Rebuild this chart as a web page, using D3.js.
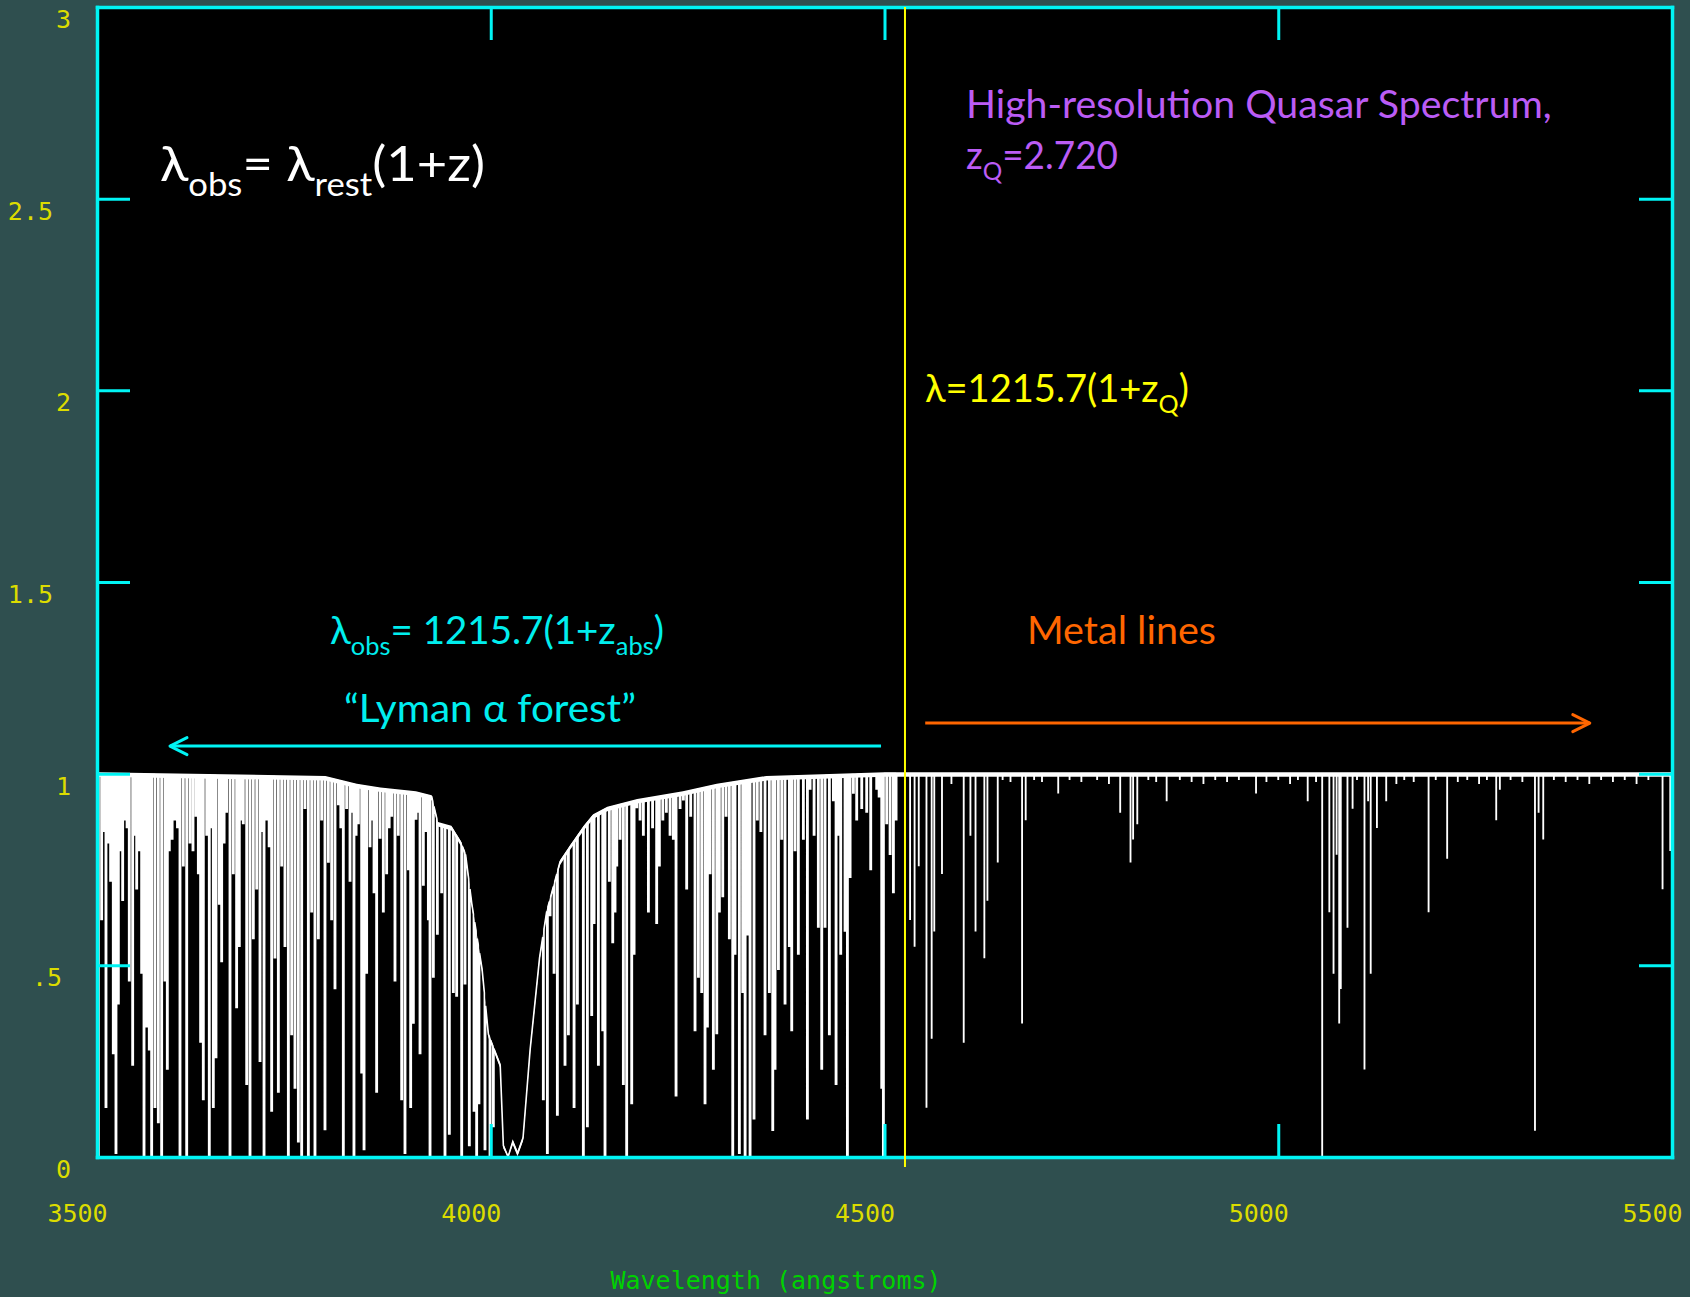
<!DOCTYPE html>
<html>
<head>
<meta charset="utf-8">
<script src="https://cdn.jsdelivr.net/npm/d3@7"></script>
<style>
  html, body { margin: 0; padding: 0; background: #2f4f4f; }
  svg { display: block; }
</style>
</head>
<body>
<div id="chart"></div>
<script>
// ---- data ----
// axes
const xTicks = [3500, 4000, 4500, 5000, 5500];
const yTicks = [0, 0.5, 1, 1.5, 2, 2.5, 3];
const yTickLabels = ["0", ".5", "1", "1.5", "2", "2.5", "3"];

// upper envelope of the spectrum (continuum with the damped Lyα trough near 4030 Å)
const envWave = [3500, 3790, 3830, 3860, 3905, 3925, 3933, 3950, 3962, 3968, 3976, 3989, 3997, 4012, 4016, 4022, 4028, 4034, 4041, 4050, 4058, 4062, 4071, 4088, 4101, 4118, 4130, 4148, 4186, 4244, 4287, 4350, 4500, 5500];
const envFlux = [1.0, 0.99, 0.97, 0.96, 0.95, 0.94, 0.87, 0.86, 0.82, 0.79, 0.66, 0.49, 0.32, 0.24, 0.03, 0.0, 0.04, 0.01, 0.05, 0.28, 0.44, 0.52, 0.64, 0.77, 0.81, 0.86, 0.89, 0.91, 0.93, 0.95, 0.97, 0.99, 1.0, 1.0];
const contNoise = 0.008;   // half-thickness of the noisy continuum trace

// Lyman alpha forest absorbers: wavelength (Å) and minimum flux
const lyaWave = [3501.7, 3505.9, 3511.4, 3517.3, 3520.7, 3524.1, 3527.1, 3532.6, 3535.5, 3541.0, 3545.3, 3550.4, 3556.7, 3559.7, 3563.1, 3566.4, 3569.4, 3573.6, 3577.9, 3582.1, 3586.3, 3589.3, 3591.8, 3599.0, 3605.4, 3609.6, 3613.9, 3618.1, 3625.7, 3628.7, 3631.6, 3635.0, 3639.3, 3642.6, 3647.7, 3651.1, 3655.3, 3658.3, 3664.6, 3668.9, 3673.1, 3677.3, 3680.7, 3685.8, 3690.1, 3694.3, 3698.5, 3702.8, 3707.0, 3712.1, 3715.5, 3721.8, 3726.0, 3730.3, 3734.5, 3738.7, 3743.0, 3747.2, 3751.4, 3755.7, 3759.9, 3764.1, 3768.4, 3772.6, 3776.8, 3781.1, 3789.5, 3793.8, 3798.0, 3802.2, 3806.5, 3812.8, 3817.0, 3821.3, 3826.3, 3831.9, 3836.1, 3839.1, 3842.4, 3846.7, 3851.8, 3855.1, 3859.4, 3863.6, 3867.8, 3874.2, 3878.4, 3882.6, 3886.9, 3891.1, 3895.4, 3898.3, 3901.7, 3905.1, 3910.2, 3914.4, 3920.8, 3922.9, 3927.1, 3932.2, 3937.7, 3941.9, 3947.4, 3952.5, 3956.7, 3963.1, 3967.3, 3972.8, 3978.8, 3982.1, 3985.0, 3992.7, 3999.1, 4003.3,
  4066.8, 4071.9, 4075.3, 4080.4, 4084.6, 4094.3, 4098.6, 4105.8, 4110.0, 4117.6, 4122.7, 4128.2, 4131.2, 4136.7, 4142.2, 4145.1, 4150.6, 4154.9, 4157.8, 4160.0, 4164.2, 4168.4, 4172.6, 4179.0, 4182.0, 4185.4, 4193.8, 4200.2, 4210.7, 4214.1, 4227.7, 4231.9, 4235.3, 4240.4, 4248.8, 4253.9, 4259.4, 4263.7, 4267.9, 4272.1, 4275.1, 4278.5, 4282.7, 4287.0, 4290.3, 4294.6, 4298.8, 4303.0, 4307.3, 4310.2, 4315.7, 4320.0, 4323.0, 4326.3, 4329.3, 4334.3, 4348.3, 4353.8, 4358.1, 4361.0, 4365.3, 4369.5, 4373.7, 4379.2, 4382.2, 4386.4, 4390.6, 4397.0, 4402.1, 4405.5, 4410.6, 4416.0, 4420.3, 4424.5, 4430.0, 4435.1, 4438.5, 4441.4, 4444.4, 4449.9, 4452.9, 4456.3, 4460.5, 4464.7, 4471.1, 4477.4, 4482.5, 4490.1, 4496.5, 4498.6, 4502.8, 4507.1, 4511.3, 4514.7];
const lyaFlux = [0.0, 0.62, 0.13, 0.72, 0.27, 0.01, 0.40, 0.67, 0.88, 0.46, 0.24, 0.70, 0.48, 0.0, 0.34, 0.28, 0.0, 0.13, 0.09, 0.0, 0.46, 0.23, 0.80, 0.88, 0.0, 0.76, 0.0, 0.82, 0.89, 0.74, 0.30, 0.15, 0.84, 0.0, 0.13, 0.26, 0.66, 0.51, 0.90, 0.0, 0.74, 0.39, 0.55, 0.87, 0.19, 0.0, 0.57, 0.70, 0.25, 0.0, 0.88, 0.12, 0.52, 0.17, 0.76, 0.55, 0.0, 0.32, 0.18, 0.04, 0.0, 0.91, 0.0, 0.64, 0.0, 0.57, 0.07, 0.77, 0.62, 0.44, 0.92, 0.0, 0.91, 0.72, 0.0, 0.87, 0.22, 0.02, 0.48, 0.81, 0.69, 0.17, 0.83, 0.64, 0.74, 0.89, 0.46, 0.84, 0.15, 0.01, 0.75, 0.13, 0.35, 0.88, 0.27, 0.71, 0.62, 0.0, 0.47, 0.58, 0.69, 0.0, 0.06, 0.43, 0.42, 0.0, 0.45, 0.03, 0.12, 0.0, 0.14, 0.02, 0.0, 0.08,
  0.15, 0.01, 0.63, 0.48, 0.11, 0.24, 0.32, 0.13, 0.40, 0.0, 0.08, 0.37, 0.61, 0.24, 0.33, 0.0, 0.72, 0.56, 0.64, 0.76, 0.83, 0.19, 0.0, 0.14, 0.53, 0.91, 0.84, 0.64, 0.61, 0.76, 0.84, 0.83, 0.16, 0.91, 0.70, 0.89, 0.33, 0.47, 0.43, 0.14, 0.34, 0.74, 0.23, 0.32, 0.64, 0.68, 0.89, 0.57, 0.0, 0.53, 0.01, 0.43, 0.0, 0.58, 0.0, 0.10, 0.32, 0.43, 0.07, 0.23, 0.49, 0.83, 0.40, 0.55, 0.33, 0.80, 0.53, 0.83, 0.10, 0.96, 0.84, 0.60, 0.23, 0.60, 0.32, 0.93, 0.19, 0.84, 0.53, 0.59, 0.0, 0.73, 0.95, 0.88, 0.91, 0.90, 0.75, 0.96, 0.18, 0.0, 0.87, 0.79, 0.69, 0.88];

// weaker forest lines filling the gaps just below the continuum
const weakWave = [3508.6, 3514.4, 3530.0, 3538.2, 3547.9, 3553.5, 3595.4, 3602.2, 3621.9, 3645.1, 3661.4, 3683.2, 3709.5, 3718.6, 3785.3, 3809.6, 3823.8, 3829.0, 3849.2, 3871.0, 3907.6, 3917.6, 4189.6, 4205.5, 4218.5, 4223.0, 4244.6, 4338.5, 4343.0, 4493.2];
const weakFlux = [0.85, 0.82, 0.80, 0.86, 0.84, 0.80, 0.83, 0.86, 0.80, 0.86, 0.82, 0.88, 0.85, 0.81, 0.88, 0.86, 0.90, 0.84, 0.88, 0.86, 0.90, 0.85, 0.88, 0.86, 0.88, 0.90, 0.93, 0.88, 0.85, 0.94];

// metal lines redward of Lyα emission, plus the small continuum wiggles
const metalWave = [4532.5, 4538.2, 4543.5, 4553.3, 4559.9, 4563.2, 4573.0, 4585, 4600.6, 4609.1, 4615.6, 4626.8, 4630.7, 4643.8, 4650, 4660, 4674.7, 4679.3, 4690, 4700, 4720.6, 4735, 4750, 4770, 4785, 4799.3, 4812.4, 4815.7, 4821.0, 4835, 4845, 4858.3, 4875, 4890, 4905, 4920, 4935, 4950, 4971.8, 4985, 5000, 5015, 5025, 5037.4, 5048, 5055.8, 5064.9, 5070.2, 5074.1, 5077.4, 5079.4, 5087.9, 5094.4, 5100, 5109.5, 5114.1, 5117.4, 5125.3, 5137.1, 5150, 5160, 5172, 5190.9, 5200, 5214.5, 5228, 5240, 5255, 5265, 5276.8, 5281.4, 5295, 5310, 5326.0, 5330.6, 5336.5, 5350, 5365, 5380, 5395, 5410, 5425, 5440, 5455, 5470, 5488.0, 5497.8];
const metalFlux = [0.62, 0.55, 0.76, 0.13, 0.31, 0.59, 0.74, 0.975, 0.30, 0.84, 0.59, 0.52, 0.67, 0.77, 0.985, 0.98, 0.35, 0.88, 0.985, 0.98, 0.95, 0.985, 0.98, 0.985, 0.975, 0.90, 0.77, 0.83, 0.87, 0.985, 0.98, 0.93, 0.985, 0.98, 0.975, 0.985, 0.98, 0.985, 0.95, 0.98, 0.985, 0.975, 0.985, 0.93, 0.98, 0.0, 0.64, 0.48, 0.79, 0.35, 0.44, 0.60, 0.91, 0.985, 0.23, 0.93, 0.48, 0.86, 0.93, 0.975, 0.985, 0.98, 0.64, 0.985, 0.78, 0.98, 0.985, 0.975, 0.985, 0.88, 0.96, 0.985, 0.98, 0.07, 0.90, 0.83, 0.985, 0.98, 0.985, 0.975, 0.985, 0.98, 0.985, 0.975, 0.985, 0.70, 0.80];

// annotations (data units)
const zQLine = 4526;   // λ = 1215.7(1+zQ) as drawn
const lyaArrow = { from: 4495.6, to: 3592.7, flux: 1.072 };
const metalArrow = { from: 4551.7, to: 5395.6, flux: 1.132 };

// ---- layout ----
const width = 1690, height = 1297;
const frame = { left: 97, right: 1672, top: 7, bottom: 1157 };
const tickLen = 33;
const cyan = "#00f4f4";
const monoFont = "'DejaVu Sans Mono', 'Liberation Mono', monospace";
const textFont = "Lato, 'Open Sans', sans-serif";

const svg = d3.select("#chart").append("svg")
  .attr("width", width)
  .attr("height", height);

svg.append("rect")
  .attr("width", width)
  .attr("height", height)
  .attr("fill", "#2f4f4f");

const x = d3.scaleLinear().domain([3500, 5500]).range([frame.left, frame.right]);
const y = d3.scaleLinear().domain([0, 3]).range([frame.bottom, frame.top]);

svg.append("rect")
  .attr("x", frame.left)
  .attr("y", frame.top)
  .attr("width", frame.right - frame.left)
  .attr("height", frame.bottom - frame.top)
  .attr("fill", "#000");

// ---- spectrum ----
const envelope = d3.scaleLinear().domain(envWave).range(envFlux).clamp(true);

// thin noisy continuum trace
svg.append("path")
  .datum(envWave)
  .attr("d", d3.area()
    .x(w => x(w))
    .y0(w => y(Math.max(0, envelope(w) - contNoise)))
    .y1(w => y(envelope(w) + contNoise * 0.5)))
  .attr("fill", "#fff");

// each absorber is drawn as a narrow flat-bottomed notch from the envelope down to its minimum
function buildSpectrum(sets, lo, hi) {
  const pts = envWave.filter(w => w >= lo && w <= hi).map(w => [w, envelope(w)]);
  sets.forEach(([waves, fluxes, hw]) => {
    waves.forEach((w, i) => {
      if (w < lo || w > hi) return;
      pts.push([w - hw, envelope(w - hw)], [w - hw, fluxes[i]], [w + hw, fluxes[i]], [w + hw, envelope(w + hw)]);
    });
  });
  return pts.sort((a, b) => a[0] - b[0]);
}

const line = d3.line()
  .x(d => x(d[0]))
  .y(d => y(d[1]));

svg.append("path")
  .datum(buildSpectrum([[lyaWave, lyaFlux, 0.8], [weakWave, weakFlux, 0.8]], 3500, zQLine))
  .attr("d", line)
  .attr("fill", "none")
  .attr("stroke", "#fff")
  .attr("stroke-width", 1.6)
  .attr("stroke-linejoin", "miter");

svg.append("path")
  .datum(buildSpectrum([[metalWave, metalFlux, 0.35]], zQLine, 5500))
  .attr("d", line)
  .attr("fill", "none")
  .attr("stroke", "#fff")
  .attr("stroke-width", 1.3)
  .attr("stroke-linejoin", "miter");

// ---- axes (ticks inside on all four sides) ----
function axisStyle(g) {
  g.select(".domain")
    .attr("stroke", cyan)
    .attr("stroke-width", 3.5)
    .attr("stroke-linecap", "square");
  g.selectAll(".tick line")
    .attr("stroke", cyan)
    .attr("stroke-width", 3);
  g.selectAll(".tick text")
    .attr("fill", "#dcdc00")
    .style("font-family", monoFont)
    .style("font-size", "25px");
}

svg.append("g")
  .attr("transform", `translate(0,${frame.bottom})`)
  .call(d3.axisBottom(x).tickValues(xTicks).tickSize(-tickLen).tickSizeOuter(0).tickPadding(47).tickFormat(d3.format("d")))
  .call(axisStyle)
  .call(g => g.selectAll(".tick text").attr("dx", -20));

svg.append("g")
  .attr("transform", `translate(${frame.left},0)`)
  .call(d3.axisLeft(y).tickValues(yTicks).tickSize(-tickLen).tickSizeOuter(0).tickPadding(26).tickFormat((d, i) => yTickLabels[i]))
  .call(axisStyle)
  .call(g => g.selectAll(".tick text")
    .attr("dy", "0.82em")
    .attr("dx", (d, i) => -9 * (yTickLabels[i].length - 1)));

svg.append("g")
  .attr("transform", `translate(0,${frame.top})`)
  .call(d3.axisTop(x).tickValues(xTicks).tickSize(-tickLen).tickSizeOuter(0).tickFormat(""))
  .call(axisStyle);

svg.append("g")
  .attr("transform", `translate(${frame.right},0)`)
  .call(d3.axisRight(y).tickValues(yTicks).tickSize(-tickLen).tickSizeOuter(0).tickFormat(""))
  .call(axisStyle);

svg.append("text")
  .attr("x", 776)
  .attr("y", 1289)
  .attr("text-anchor", "middle")
  .attr("fill", "#00d200")
  .style("font-family", monoFont)
  .style("font-size", "25px")
  .text("Wavelength (angstroms)");

// ---- Lyα emission position ----
svg.append("line")
  .attr("x1", x(zQLine)).attr("x2", x(zQLine))
  .attr("y1", y(3)).attr("y2", frame.bottom + 10)
  .attr("stroke", "#ffff00")
  .attr("stroke-width", 2);

// ---- arrows ----
function arrow(a, color) {
  const x0 = x(a.from), x1 = x(a.to), yy = y(a.flux);
  const back = x1 < x0 ? 17 : -17;
  svg.append("line")
    .attr("x1", x0).attr("x2", x1).attr("y1", yy).attr("y2", yy)
    .attr("stroke", color).attr("stroke-width", 3);
  svg.append("path")
    .attr("d", `M${x1 + back},${yy - 8.5}L${x1},${yy}L${x1 + back},${yy + 8.5}`)
    .attr("fill", "none")
    .attr("stroke", color)
    .attr("stroke-width", 3)
    .attr("stroke-linecap", "round")
    .attr("stroke-linejoin", "round");
}
arrow(lyaArrow, cyan);
arrow(metalArrow, "#ff6600");

// ---- text labels with subscripts, stretched to the width seen in the plot ----
function richText(parts, o) {
  const x0 = x(o.w);
  const t = svg.append("text")
    .attr("x", x0)
    .attr("y", y(o.f))
    .attr("fill", o.color)
    .style("font-family", textFont)
    .style("font-size", o.size + "px");
  let shift = 0;
  parts.forEach(p => {
    const isSub = Array.isArray(p);
    const target = isSub ? o.size * 0.3 : 0;
    t.append("tspan")
      .attr("dy", target - shift)
      .style("font-size", isSub ? (o.size * 0.66) + "px" : null)
      .text(isSub ? p[0] : p);
    shift = target;
  });
  const bw = t.node().getBBox().width;
  const sx = o.width / bw;
  t.attr("transform", `translate(${x0},0) scale(${sx},1) translate(${-x0},0)`);
}

richText(["λ", ["obs"], "= λ", ["rest"], "(1+z)"], { w: 3580, f: 2.546, size: 49, width: 325, color: "#fff" });
richText(["High-resolution Quasar Spectrum,"], { w: 4603.5, f: 2.711, size: 38, width: 586, color: "#bb5cf5" });
richText(["z", ["Q"], "=2.720"], { w: 4603.5, f: 2.578, size: 38, width: 152, color: "#bb5cf5" });
richText(["λ=1215.7(1+z", ["Q"], ")"], { w: 4551.4, f: 1.970, size: 38, width: 264, color: "#ffff00" });
richText(["λ", ["obs"], "= 1215.7(1+z", ["abs"], ")"], { w: 3795.9, f: 1.338, size: 38, width: 334, color: "#00eeee" });
richText(["“Lyman α forest”"], { w: 3813.7, f: 1.135, size: 38, width: 292, color: "#00eeee" });
richText(["Metal lines"], { w: 4681, f: 1.338, size: 38, width: 189, color: "#ff6600" });
</script>
</body>
</html>
